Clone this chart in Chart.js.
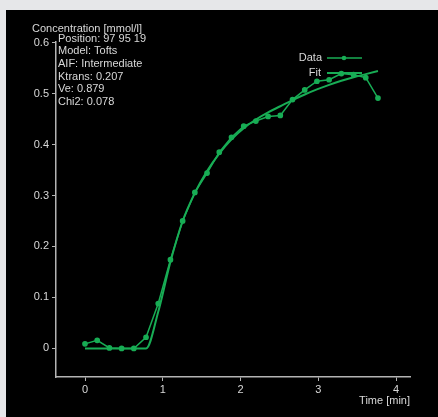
<!DOCTYPE html>
<html lang="en">
<head>
  <meta charset="UTF-8" />
  <title>Tofts fit</title>
  <script src="https://cdn.jsdelivr.net/npm/chart.js"></script>
  <style>
    body { margin: 0; background: #e6e7e9; font-family: "Liberation Sans", Arial, sans-serif; }
    #panel { position: absolute; left: 6px; top: 10px; width: 432px; height: 407px; background: #000; }
    canvas { display: block; }
  </style>
</head>
<body>
  <div id="panel"><canvas id="fitChart" width="432" height="407"></canvas></div>

  <script>
    // sample times (min) and measured concentration (mmol/l)
    const times = [0, 0.157, 0.314, 0.471, 0.628, 0.785, 0.942, 1.099, 1.256, 1.413,
                   1.570, 1.727, 1.884, 2.041, 2.198, 2.355, 2.512, 2.669, 2.826, 2.983,
                   3.140, 3.297, 3.454, 3.611, 3.768];
    const measured = [0.009, 0.016, 0.001, 0, 0, 0.022, 0.088, 0.174, 0.25, 0.306,
                      0.344, 0.385, 0.414, 0.436, 0.446, 0.455, 0.457, 0.488, 0.507, 0.524,
                      0.527, 0.539, 0.537, 0.531, 0.491];
    const fitted = [0, 0, 0, 0, 0, 0, 0.072, 0.17, 0.25, 0.305,
                    0.348, 0.382, 0.41, 0.432, 0.449, 0.463, 0.475, 0.487, 0.498, 0.508,
                    0.517, 0.525, 0.532, 0.538, 0.544];
    const xTicks = [0, 1, 2, 3, 4];
    const yTicks = [0, 0.1, 0.2, 0.3, 0.4, 0.5, 0.6];
    const infoLines = ['Position: 97 95 19', 'Model: Tofts', 'AIF: Intermediate',
                       'Ktrans: 0.207', 'Ve: 0.879', 'Chi2: 0.078'];

    const green = '#18ad55';
    const axisColor = '#b4b4b4';
    const textColor = '#d8d8d8';
    const font = '"Liberation Sans", Arial, sans-serif';

    const toPoints = vals => vals.map((v, i) => ({ x: times[i], y: v }));

    const overlay = {
      id: 'overlay',
      afterDraw(chart) {
        const ctx = chart.ctx;
        ctx.save();
        ctx.fillStyle = textColor;
        ctx.font = '11px ' + font;
        ctx.textBaseline = 'middle';
        ctx.textAlign = 'left';
        ctx.fillText('Concentration [mmol/l]', 26, 19);
        infoLines.forEach((t, i) => ctx.fillText(t, 52, 28.5 + i * 12.7));
        ctx.textAlign = 'right';
        ctx.fillText('Time [min]', 404, 391);

        // legend: label then sample line
        ctx.fillText('Data', 316, 48);
        ctx.fillText('Fit', 315, 63);
        ctx.strokeStyle = green;
        ctx.lineWidth = 1.5;
        ctx.beginPath(); ctx.moveTo(321, 48); ctx.lineTo(356, 48); ctx.stroke();
        ctx.fillStyle = green;
        ctx.beginPath(); ctx.arc(338, 48, 2.3, 0, Math.PI * 2); ctx.fill();
        ctx.lineWidth = 2;
        ctx.beginPath(); ctx.moveTo(321, 63); ctx.lineTo(356, 63); ctx.stroke();
        ctx.restore();
      }
    };

    new Chart(document.getElementById('fitChart').getContext('2d'), {
      type: 'scatter',
      data: {
        datasets: [
          {
            label: 'Data',
            data: toPoints(measured),
            showLine: true,
            borderColor: green,
            backgroundColor: green,
            borderWidth: 1.5,
            pointRadius: 2.1,
            pointHoverRadius: 2.1,
            tension: 0
          },
          {
            label: 'Fit',
            data: toPoints(fitted),
            showLine: true,
            borderColor: green,
            borderWidth: 2,
            pointRadius: 0,
            cubicInterpolationMode: 'monotone'
          }
        ]
      },
      options: {
        responsive: false,
        animation: false,
        layout: { padding: { left: 0, top: 32, right: 28, bottom: 0 } },
        plugins: { legend: { display: false }, tooltip: { enabled: false } },
        scales: {
          x: {
            type: 'linear',
            min: -0.373,
            max: 4.18,
            afterBuildTicks: s => { s.ticks = xTicks.map(v => ({ value: v })); },
            afterFit: s => { s.height = 40; },
            grid: { drawOnChartArea: false, color: axisColor, tickLength: 4 },
            border: { color: axisColor, width: 1.5 },
            ticks: { color: textColor, font: { size: 11, family: font }, padding: 2, callback: v => String(v) }
          },
          y: {
            type: 'linear',
            min: -0.056,
            max: 0.601,
            afterBuildTicks: s => { s.ticks = yTicks.map(v => ({ value: v })); },
            afterFit: s => { s.width = 50; },
            grid: { drawOnChartArea: false, color: axisColor, tickLength: 4 },
            border: { color: axisColor, width: 1.5 },
            ticks: { color: textColor, font: { size: 11, family: font }, padding: 3,
                     callback: v => v === 0 ? '0' : v.toFixed(1) }
          }
        }
      },
      plugins: [overlay]
    });
  </script>
</body>
</html>
